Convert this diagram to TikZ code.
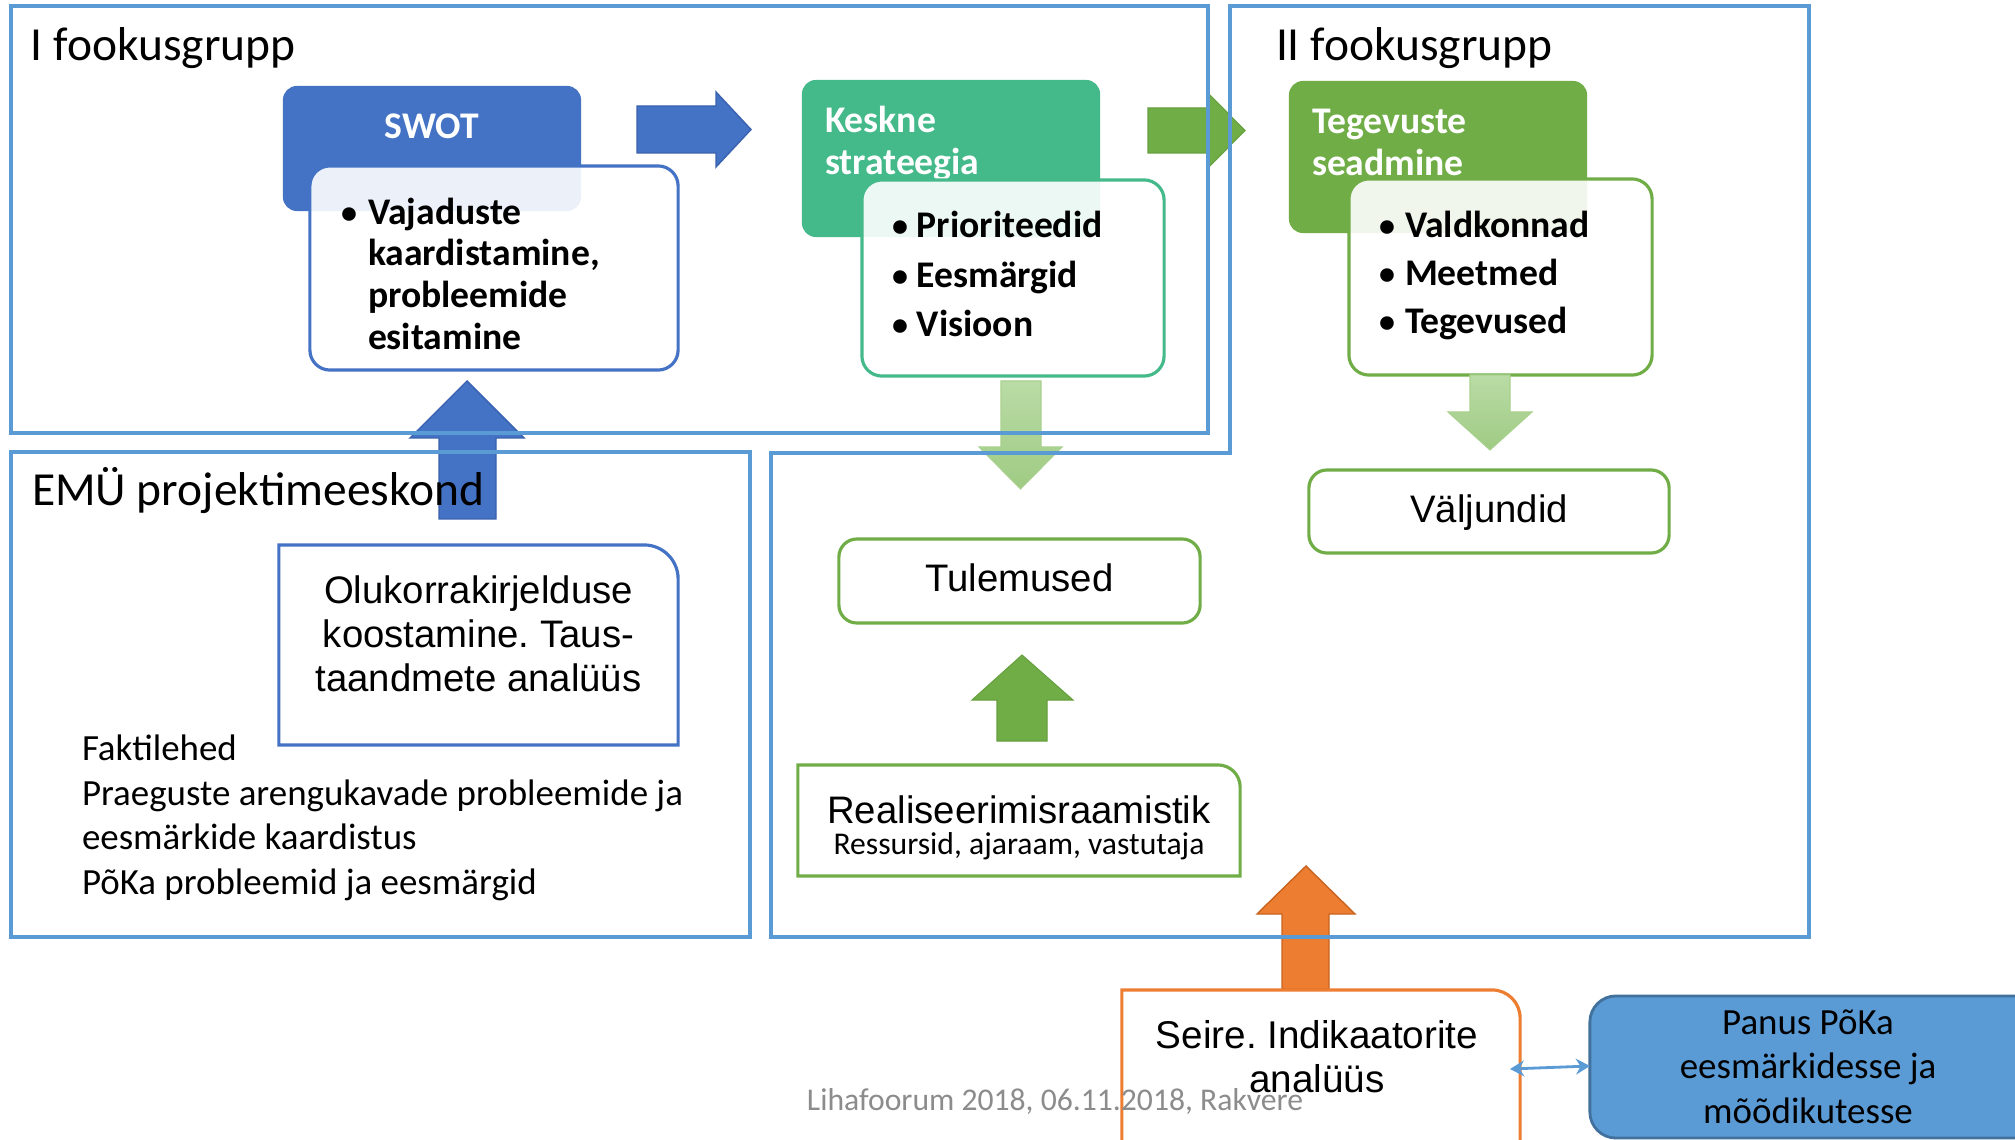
\documentclass[tikz,border=0pt]{standalone}
\usepackage{fontspec}
\setmainfont{Carlito}
\newfontfamily\arialf{Liberation Sans}
\usetikzlibrary{arrows.meta}
\frenchspacing
\definecolor{frameblue}{HTML}{5B9BD5}
\definecolor{swotblue}{HTML}{4472C4}
\definecolor{swotdark}{HTML}{3A62AE}
\definecolor{keskgreen}{HTML}{44B98A}
\definecolor{tgreen}{HTML}{70AD47}
\definecolor{tgreendark}{HTML}{66A03F}
\definecolor{lgtop}{HTML}{BADBA6}
\definecolor{lgbot}{HTML}{9FCB83}
\definecolor{lgedge}{HTML}{A9D18E}
\definecolor{orangef}{HTML}{ED7D31}
\definecolor{orangedark}{HTML}{C8641F}
\definecolor{panusfill}{HTML}{5B9BD5}
\definecolor{panusedge}{HTML}{41719C}
\definecolor{footgray}{HTML}{8C8C8C}
\newcommand{\mybul}[1]{\makebox[#1][l]{\raisebox{0.08ex}{\scalebox{0.85}{•}}}}
\begin{document}
\begin{tikzpicture}[x=0.01cm,y=-0.01cm,
  txt/.style={inner sep=0pt, outer sep=0pt},
  grptitle/.style={txt, anchor=base west, font=\fontsize{13.5}{16}\selectfont},
  blist/.style={txt, anchor=base west, font=\bfseries\fontsize{10.7}{12.8}\selectfont},
  hdrtext/.style={txt, anchor=base west, text=white, font=\bfseries\fontsize{10.7}{12.6}\selectfont},
  ar/.style={txt, anchor=base, align=center, font=\arialf\fontsize{10.9}{12.4}\selectfont},
  cal/.style={txt, anchor=base, align=center, font=\fontsize{10.5}{12.6}\selectfont},
  colbox/.style={txt, rounded corners=0.14cm},
  wbox/.style={txt, rounded corners=0.2cm, fill=white, fill opacity=0.9, line width=0.9pt},
  gbox/.style={txt, rounded corners=0.18cm, draw=tgreen, line width=0.9pt, fill=white},
  bigframe/.style={draw=frameblue, line width=1.1pt},
  blockblue/.style={fill=swotblue, draw=swotdark, line width=0.4pt},
  blockgreen/.style={fill=tgreen, draw=tgreendark, line width=0.3pt},
  blocklight/.style={top color=lgtop, bottom color=lgbot, draw=lgedge, line width=0.3pt},
  blockorange/.style={fill=orangef, draw=orangedark, line width=0.4pt},
  dblarrow/.style={arrows={Stealth[length=4pt,width=4.5pt]-Stealth[length=4pt,width=4.5pt]}, draw=frameblue, line width=0.8pt}
]
\useasboundingbox (0,0) rectangle (2015,1140);
\fill[white] (0,0) rectangle (2015,1140);
\begin{scope}
\clip (0,0) rectangle (2015,1140);

% coloured header boxes
\node[colbox, fill=swotblue, minimum width=2.98cm, minimum height=1.25cm] (swot) at (432,148.5) {};
\node[hdrtext, anchor=base] (swotT) at (432,139) {SWOT};
\node[colbox, fill=keskgreen, minimum width=2.98cm, minimum height=1.57cm] (kesk) at (951,158.5) {};
\node[hdrtext] (keskT1) at (825,133) {Keskne};
\node[hdrtext] (keskT2) at (825,175) {strateegia};
\node[colbox, fill=tgreen, minimum width=2.98cm, minimum height=1.52cm] (tegev) at (1438,157) {};
\node[hdrtext] (tegevT1) at (1312,134) {Tegevuste};
\node[hdrtext] (tegevT2) at (1312,176) {seadmine};

% overlay list boxes
\node[wbox, draw=swotblue, minimum width=3.68cm, minimum height=2.04cm] (vaj) at (494,268) {};
\node[wbox, draw=keskgreen, minimum width=3.02cm, minimum height=1.96cm] (prior) at (1013,278) {};
\node[wbox, draw=tgreen, minimum width=3.03cm, minimum height=1.96cm] (valdk) at (1500.5,277) {};

% block arrows
\path[blockblue] (637,106) -- (716,106) -- (716,92) -- (751,129.5) -- (716,167) -- (716,153) -- (637,153) -- cycle;
\path[blockgreen] (1148,108) -- (1208,108) -- (1208,93) -- (1245,130.5) -- (1208,168) -- (1208,153) -- (1148,153) -- cycle;
\path[blocklight] (1001,381) -- (1041,381) -- (1041,447) -- (1062,447) -- (1020.5,489) -- (979,447) -- (1001,447) -- cycle;
\path[blocklight] (1470,375) -- (1510,375) -- (1510,412) -- (1532,412) -- (1490,450) -- (1448,412) -- (1470,412) -- cycle;
\path[blockgreen] (997,741) -- (997,700) -- (972,700) -- (1022,655) -- (1073,700) -- (1047,700) -- (1047,741) -- cycle;
\path[blockorange] (1282,989) -- (1282,914) -- (1257,914) -- (1306,866) -- (1355,914) -- (1329,914) -- (1329,989) -- cycle;
\path[blockblue] (439,519) -- (439,438) -- (410,438) -- (467,381) -- (524,438) -- (496,438) -- (496,519) -- cycle;

% plain boxes
\node[gbox, minimum width=3.60cm, minimum height=0.83cm] (valj) at (1489,511.5) {};
\node[gbox, minimum width=3.61cm, minimum height=0.84cm] (tulem) at (1019.5,581) {};

\node[txt, minimum width=4.42cm, minimum height=1.11cm] (realis) at (1019,820.5) {};
\draw[draw=tgreen, line width=0.9pt] (realis.south west) -- (realis.north west) -- ([xshift=-0.22cm]realis.north east) arc[start angle=90, end angle=0, radius=0.22cm] -- (realis.south east) -- cycle;

\node[txt, minimum width=3.99cm, minimum height=2.00cm] (olu) at (478.5,645) {};
\draw[draw=swotblue, line width=0.9pt] (olu.south west) -- (olu.north west) -- ([xshift=-0.34cm]olu.north east) arc[start angle=90, end angle=0, radius=0.34cm] -- (olu.south east) -- cycle;

\node[txt, minimum width=3.98cm, minimum height=1.70cm] (seire) at (1321,1075) {};
\draw[draw=orangef, line width=0.9pt] (seire.south west) -- (seire.north west) -- ([xshift=-0.28cm]seire.north east) arc[start angle=90, end angle=0, radius=0.28cm] -- (seire.south east);

\node[txt, rounded corners=0.26cm, fill=panusfill, draw=panusedge, line width=0.8pt, minimum width=4.70cm, minimum height=1.42cm] (panus) at (1825,1067) {};

% connector
\coordinate (dl) at (1510,1069);
\coordinate (dr) at (1590,1066);
\draw[dblarrow] (dl) -- (dr);

% big frames
\node[txt, bigframe, minimum width=11.97cm, minimum height=4.27cm] (grpI) at (609.5,219.5) {};
\node[txt, bigframe, minimum width=7.39cm, minimum height=4.85cm] (emu) at (380.5,694.5) {};
\coordinate (p1) at (1230,6);
\coordinate (p2) at (1809,6);
\coordinate (p3) at (1809,937);
\coordinate (p4) at (771,937);
\coordinate (p5) at (771,453);
\coordinate (p6) at (1230,453);
\draw[bigframe] (p1) -- (p2) -- (p3) -- (p4) -- (p5) -- (p6) -- cycle;

% titles
\node[grptitle] (tI) at (31,61) {I fookusgrupp};
\node[grptitle] (tII) at (1276,61) {II fookusgrupp};
\node[grptitle] (tEMU) at (32,505) {EMÜ projektimeeskond};

% list texts
\node[blist] (v1) at (341,225) {\mybul{7.7pt}Vajaduste};
\node[blist] (v2) at (368,266) {kaardistamine,};
\node[blist] (v3) at (368,308) {probleemide};
\node[blist] (v4) at (368,350) {esitamine};

\node[blist] (pr1) at (892,238) {\mybul{7.1pt}Prioriteedid};
\node[blist] (pr2) at (892,287.5) {\mybul{7.1pt}Eesmärgid};
\node[blist] (pr3) at (892,337) {\mybul{7.1pt}Visioon};

\node[blist] (va1) at (1379,238) {\mybul{7.4pt}Valdkonnad};
\node[blist] (va2) at (1379,286) {\mybul{7.4pt}Meetmed};
\node[blist] (va3) at (1379,334) {\mybul{7.4pt}Tegevused};

% box texts
\node[ar] (valjT) at (1489,523) {Väljundid};
\node[ar] (tulemT) at (1019.5,591) {Tulemused};
\node[ar] (realisT) at (1019,823) {Realiseerimisraamistik};
\node[txt, anchor=base, font=\fontsize{9}{11}\selectfont] (realisT2) at (1019,854.5) {Ressursid, ajaraam, vastutaja};
\node[ar] (oluT) at (478.5,691) {Olukorrakirjelduse\\koostamine. Taus-\\taandmete analüüs};
\node[ar, font=\arialf\fontsize{11}{12.4}\selectfont] (seireT) at (1317,1092) {Seire. Indikaatorite\\analüüs};
\node[cal] (panusT) at (1808,1123) {Panus PõKa\\eesmärkidesse ja\\mõõdikutesse};

\node[txt, anchor=base west, align=left, font=\fontsize{10.5}{12.65}\selectfont] (fakt) at (82,894) {Faktilehed\\Praeguste arengukavade probleemide ja\\eesmärkide kaardistus\\PõKa probleemid ja eesmärgid};

\node[txt, anchor=base, text=footgray, font=\fontsize{9}{11}\selectfont] (foot) at (1055,1110) {Lihafoorum 2018, 06.11.2018, Rakvere};
\end{scope}
\end{tikzpicture}
\end{document}
